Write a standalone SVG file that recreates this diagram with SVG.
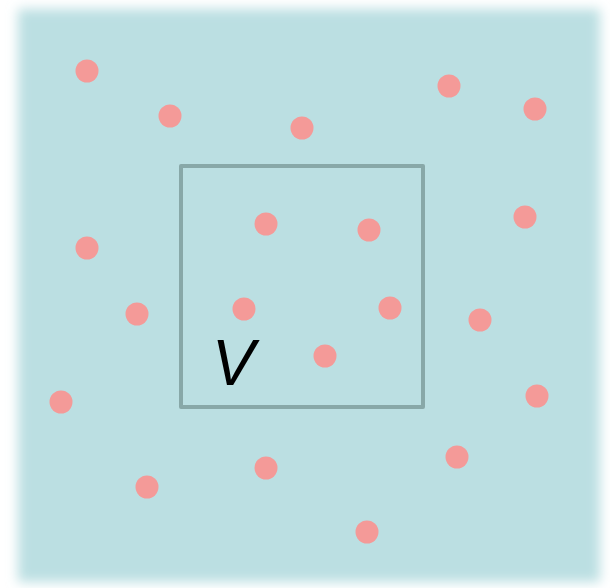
<svg xmlns="http://www.w3.org/2000/svg" width="610" height="588" viewBox="0 0 610 588">
<defs>
<filter id="blur" x="-10%" y="-10%" width="120%" height="120%"><feGaussianBlur stdDeviation="6"/></filter>
<style>
.dot{fill:#f49a98}
.box{fill:none;stroke:#88a8a8;stroke-width:4;stroke-linejoin:round}
.lbl{font-family:"Liberation Sans",Arial,sans-serif;font-style:italic;font-size:64px;fill:#000}
</style>
</defs>
<rect width="610" height="588" fill="#ffffff"/>
<rect x="18" y="9" width="582" height="573" fill="#bbdfe2" filter="url(#blur)"/>
<g id="region">
<rect class="box" x="181" y="166" width="242" height="241"/>
<text class="lbl" x="212" y="385">V</text>
</g>
<g id="points">
<circle class="dot" cx="87" cy="71" r="11.5"/>
<circle class="dot" cx="170" cy="116" r="11.5"/>
<circle class="dot" cx="302" cy="128" r="11.5"/>
<circle class="dot" cx="449" cy="86" r="11.5"/>
<circle class="dot" cx="535" cy="109" r="11.5"/>
<circle class="dot" cx="266" cy="224" r="11.5"/>
<circle class="dot" cx="369" cy="230" r="11.5"/>
<circle class="dot" cx="525" cy="217" r="11.5"/>
<circle class="dot" cx="87" cy="248" r="11.5"/>
<circle class="dot" cx="137" cy="314" r="11.5"/>
<circle class="dot" cx="244" cy="309" r="11.5"/>
<circle class="dot" cx="390" cy="308" r="11.5"/>
<circle class="dot" cx="480" cy="320" r="11.5"/>
<circle class="dot" cx="325" cy="356" r="11.5"/>
<circle class="dot" cx="61" cy="402" r="11.5"/>
<circle class="dot" cx="537" cy="396" r="11.5"/>
<circle class="dot" cx="266" cy="468" r="11.5"/>
<circle class="dot" cx="457" cy="457" r="11.5"/>
<circle class="dot" cx="147" cy="487" r="11.5"/>
<circle class="dot" cx="367" cy="532" r="11.5"/>
</g>
</svg>
